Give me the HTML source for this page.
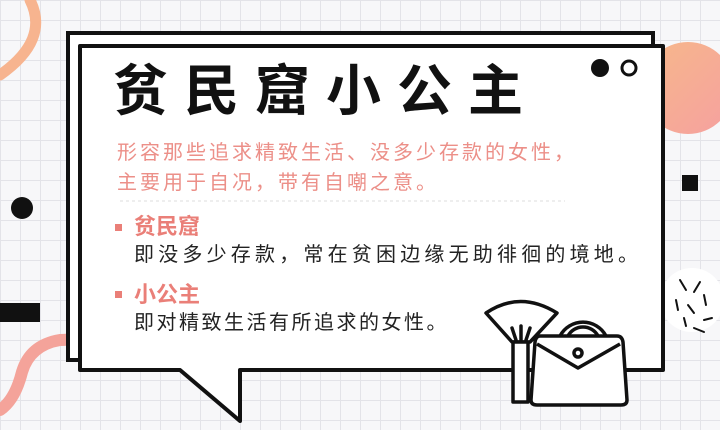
<!DOCTYPE html>
<html><head><meta charset="utf-8"><style>
html,body{margin:0;padding:0}
body{width:720px;height:430px;overflow:hidden;position:relative;background-color:#f7f7f9;
background-image:linear-gradient(#e3e3e8 1px,transparent 1px),linear-gradient(90deg,#e3e3e8 1px,transparent 1px);background-size:20px 20px;
font-family:"Liberation Sans","Noto Sans CJK SC",sans-serif}
.abs{position:absolute}
.t{position:absolute;white-space:nowrap}
</style></head><body>
<svg class="abs" width="720" height="430" style="left:0;top:0">
 <defs><linearGradient id="g1" x1="0" y1="0" x2="1" y2="1"><stop offset="0" stop-color="#f7b88a"/><stop offset="1" stop-color="#f5a0a0"/></linearGradient></defs>
 <circle cx="688" cy="88" r="46" fill="url(#g1)"/>
 <path d="M30 0 Q50 40 0 75" stroke="#f7b48f" stroke-width="11" fill="none" stroke-linecap="round"/>
 <path d="M110 312 Q95 340 60 340 Q30 345 22 372 Q15 400 0 410" stroke="#f4a39a" stroke-width="12" fill="none" stroke-linecap="round"/>
 <circle cx="22" cy="208" r="11" fill="#111"/>
 <rect x="682" y="175" width="16" height="16" fill="#111"/>
 <rect x="0" y="303" width="40" height="19" fill="#111"/>
 <circle cx="692" cy="300" r="32" fill="#fff"/>
 <g stroke="#111" stroke-width="2" stroke-linecap="round">
  <line x1="680" y1="280" x2="686" y2="290"/><line x1="700" y1="282" x2="694" y2="292"/><line x1="704" y1="295" x2="706" y2="305"/>
  <line x1="688" y1="305" x2="694" y2="313"/><line x1="712" y1="318" x2="704" y2="320"/><line x1="684" y1="318" x2="686" y2="326"/>
  <line x1="676" y1="300" x2="678" y2="310"/><line x1="694" y1="328" x2="704" y2="332"/>
 </g>
 <rect x="68" y="33" width="585" height="327" fill="#fff" stroke="#111" stroke-width="4"/>
 <path d="M80 46 H663 V370 H240 V421 L180 370 H80 Z" fill="#fff" stroke="#111" stroke-width="4" stroke-linejoin="round"/>
 <circle cx="600" cy="68" r="9" fill="#111"/>
 <circle cx="629" cy="68" r="7" fill="none" stroke="#111" stroke-width="3"/>
 <line x1="120" y1="201" x2="565" y2="201" stroke="#ddd" stroke-width="1" stroke-dasharray="3 3"/>
 <rect x="115" y="224" width="7" height="7" fill="#ea7f78"/>
 <rect x="115" y="291" width="7" height="7" fill="#ea7f78"/>
 <g stroke="#111" stroke-width="3.5" fill="#fff" stroke-linejoin="round" stroke-linecap="round">
  <path d="M486 313 Q520 290 557 313 L530 342 L512 342 Z"/>
  <path d="M516 340 L512 328 M521 340 L521 326 M526 340 L530 328" fill="none"/>
  <rect x="513" y="342" width="15" height="60"/>
 </g>
 <g stroke="#111" stroke-width="3.5" fill="#fff" stroke-linejoin="round">
  <path d="M560 336 A26 26 0 0 1 606 336" fill="none"/>
  <path d="M568 336 A17 17 0 0 1 598 336" fill="none"/>
  <path d="M540 336 H617 Q622 336 623 342 L627 400 Q627 405 621 405 H537 Q531 405 531 400 L535 342 Q536 336 540 336 Z"/>
  <path d="M537 344 L578 368 L620 344" fill="none"/>
  <circle cx="578" cy="353" r="4" fill="#fff"/>
 </g>
</svg>
<div class="t" style="left:113px;top:60px;font-size:55px;font-weight:bold;letter-spacing:16px;color:#111;line-height:62px">贫民窟小公主</div>
<div class="t" style="left:117px;top:138px;font-size:20px;line-height:30px;color:#ec8f88;letter-spacing:3px">形容那些追求精致生活、没多少存款的女性，<br>主要用于自况，带有自嘲之意。</div>
<div class="t" style="left:134px;top:213px;font-size:22px;font-weight:bold;color:#ea7f78;line-height:28px">贫民窟</div>
<div class="t" style="left:134px;top:241px;font-size:20px;color:#222;line-height:28px;letter-spacing:4.2px">即没多少存款，常在贫困边缘无助徘徊的境地。</div>
<div class="t" style="left:134px;top:281px;font-size:22px;font-weight:bold;color:#ea7f78;line-height:28px">小公主</div>
<div class="t" style="left:134px;top:309px;font-size:20px;color:#222;line-height:28px;letter-spacing:2.5px">即对精致生活有所追求的女性。</div>
</body></html>
